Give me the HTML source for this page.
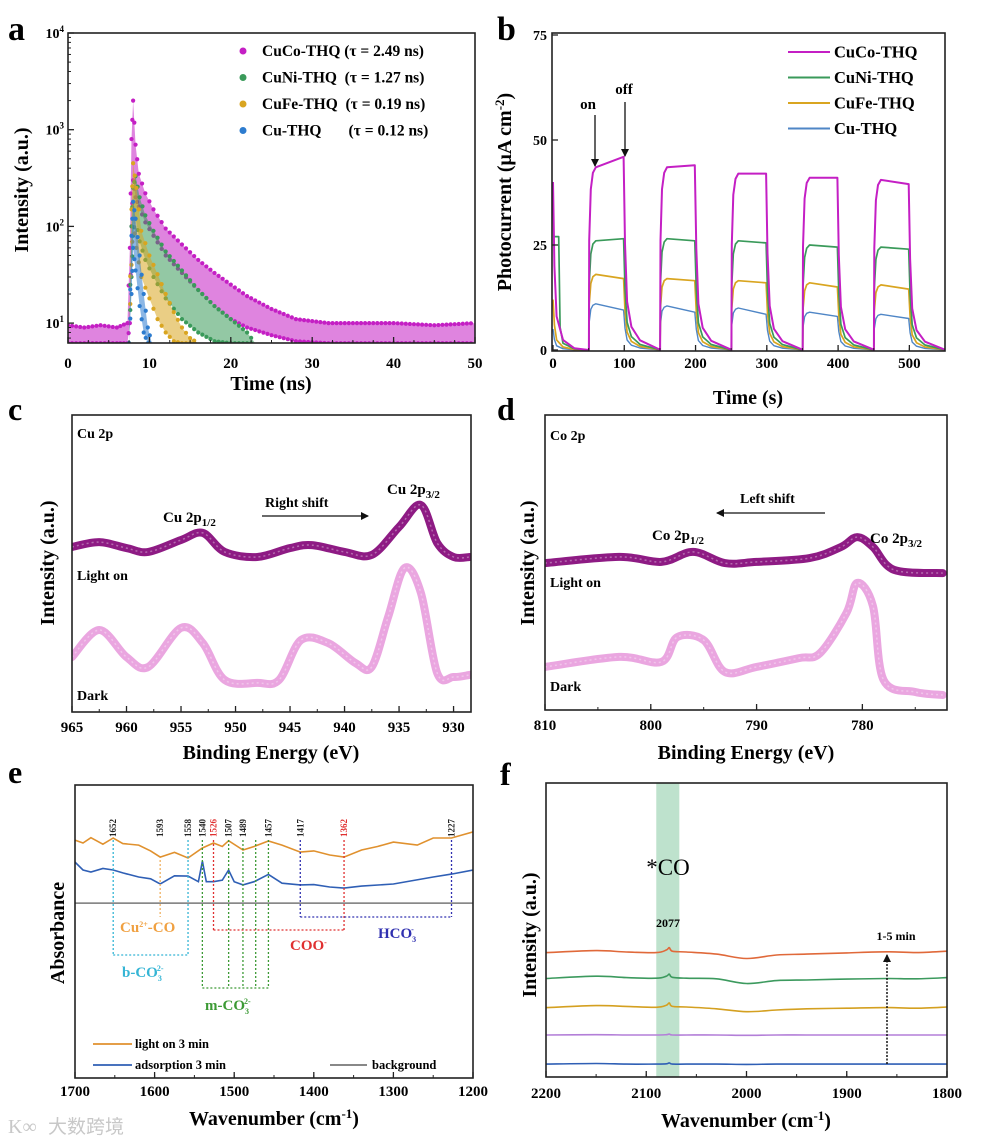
<!DOCTYPE html>
<html><head><meta charset="utf-8"><style>
html,body{margin:0;padding:0;background:#fff;}
svg{display:block;font-family:"Liberation Serif","Noto Serif CJK SC",serif;font-weight:bold;}
</style></head><body>
<svg id="fig" width="981" height="1145" viewBox="0 0 981 1145" xmlns="http://www.w3.org/2000/svg">
<defs>
<clipPath id="clipA"><rect x="68" y="33" width="407" height="310"/></clipPath>
<clipPath id="clipB"><rect x="552" y="33" width="393" height="318"/></clipPath>
<clipPath id="clipC"><rect x="72" y="415" width="399" height="297"/></clipPath>
<clipPath id="clipD"><rect x="545" y="415" width="402" height="295"/></clipPath>
<clipPath id="clipE"><rect x="75" y="785" width="398" height="293"/></clipPath>
<clipPath id="clipF"><rect x="546" y="783" width="401" height="294"/></clipPath>
<marker id="ah" markerWidth="8" markerHeight="8" refX="7" refY="4" orient="auto" markerUnits="userSpaceOnUse"><path d="M0,0 L8,4 L0,8 Z" fill="#111"/></marker>
</defs>
<rect width="981" height="1145" fill="#fff"/>

<text x="8" y="40" font-size="34">a</text>
<text x="497" y="40" font-size="34">b</text>
<text x="8" y="420" font-size="32">c</text>
<text x="497" y="420" font-size="32">d</text>
<text x="8" y="783" font-size="32">e</text>
<text x="500" y="785" font-size="32">f</text>

<g id="gA"></g>
<g id="gB"></g>
<g id="gC"></g>
<g id="gD"></g>
<g id="gE"></g>
<g id="gF"></g>

<text x="271" y="390" font-size="20" text-anchor="middle">Time (ns)</text>
<text transform="translate(28,190) rotate(-90)" font-size="20" text-anchor="middle">Intensity (a.u.)</text>
<text x="748" y="404" font-size="20" text-anchor="middle">Time (s)</text>
<text transform="translate(511,192) rotate(-90)" font-size="20" text-anchor="middle">Photocurrent (μA cm<tspan dy="-7" font-size="13">-2</tspan><tspan dy="7">)</tspan></text>
<text x="271" y="759" font-size="20" text-anchor="middle">Binding Energy (eV)</text>
<text transform="translate(54,563) rotate(-90)" font-size="20" text-anchor="middle">Intensity (a.u.)</text>
<text x="746" y="759" font-size="20" text-anchor="middle">Binding Energy (eV)</text>
<text transform="translate(534,563) rotate(-90)" font-size="20" text-anchor="middle">Intensity (a.u.)</text>
<text x="274" y="1125" font-size="20" text-anchor="middle">Wavenumber (cm<tspan dy="-7" font-size="13">-1</tspan><tspan dy="7">)</tspan></text>
<text transform="translate(64,933) rotate(-90)" font-size="20" text-anchor="middle">Absorbance</text>
<text x="746" y="1127" font-size="20" text-anchor="middle">Wavenumber (cm<tspan dy="-7" font-size="13">-1</tspan><tspan dy="7">)</tspan></text>
<text transform="translate(536,935) rotate(-90)" font-size="20" text-anchor="middle">Intensity (a.u.)</text>

<text x="77" y="438" font-size="14">Cu 2p</text>
<text x="163" y="522" font-size="15">Cu 2p<tspan font-size="11" dy="4">1/2</tspan></text>
<text x="265" y="507" font-size="14">Right shift</text>
<line x1="262" y1="516" x2="368" y2="516" stroke="#111" stroke-width="1.3" marker-end="url(#ah)"/>
<text x="387" y="494" font-size="15">Cu 2p<tspan font-size="11" dy="4">3/2</tspan></text>
<text x="77" y="580" font-size="14">Light on</text>
<text x="77" y="700" font-size="14">Dark</text>

<text x="550" y="440" font-size="14">Co 2p</text>
<text x="740" y="503" font-size="14">Left shift</text>
<line x1="825" y1="513" x2="717" y2="513" stroke="#111" stroke-width="1.3" marker-end="url(#ah)"/>
<text x="652" y="540" font-size="15">Co 2p<tspan font-size="11" dy="4">1/2</tspan></text>
<text x="870" y="543" font-size="15">Co 2p<tspan font-size="11" dy="4">3/2</tspan></text>
<text x="550" y="587" font-size="14">Light on</text>
<text x="550" y="691" font-size="14">Dark</text>

<text x="588" y="109" font-size="15" text-anchor="middle">on</text>
<text x="624" y="94" font-size="15" text-anchor="middle">off</text>
<line x1="595" y1="115" x2="595" y2="166" stroke="#111" stroke-width="1.3" marker-end="url(#ah)"/>
<line x1="625" y1="102" x2="625" y2="156" stroke="#111" stroke-width="1.3" marker-end="url(#ah)"/>

<text x="668" y="875" font-size="23" font-weight="normal" text-anchor="middle">*CO</text>
<text x="668" y="927" font-size="12" text-anchor="middle">2077</text>
<text x="896" y="940" font-size="12" text-anchor="middle">1-5 min</text>
<line x1="887" y1="1064" x2="887" y2="955" stroke="#111" stroke-width="1.5" stroke-dasharray="2,1.5" marker-end="url(#ah)"/>

<text x="8" y="1133" font-size="20" fill="#c8c8c8" font-weight="normal">K∞</text>
<text x="48" y="1133" font-size="19" fill="#c8c8c8" font-family="'Noto Sans CJK SC',sans-serif" font-weight="normal">大数跨境</text>
</svg>

<script>
const tCuCo = [0,2,4,6,7.3,7.6,7.8,8,8.3,8.7,9.5,10.5,12,14,16,18,20,22,25,28,32,36,40,45,50];
const upCuCo = [9.5,9,9.5,9,10,60,800,2000,700,350,220,150,95,65,45,33,25,19,14,11,10,10,10,9.5,10];
const loCuCo = [6.2,6.2,6.2,6.2,6.2,10,100,300,200,160,110,80,50,33,22,15,11,9,7.5,6.5,6.2,6.2,6.2,6.2,6.2];
const tCuNi = [7.5,7.8,8,8.3,8.8,9.5,10.5,12,14,16,18,20,22,23];
const upCuNi = [6.2,100,250,330,200,130,90,55,35,22,15,11,8,6.2];
const loCuNi = [6.2,30,80,120,70,45,30,18,11,8,6.5,6.2,6.2,6.2];
const tCuFe = [7.5,7.8,8,8.4,9,10,11,12,13,14,15,16];
const upCuFe = [6.2,150,450,250,90,50,32,20,13,9,7,6.2];
const loCuFe = [6.2,40,120,60,30,18,11,8,6.5,6.2,6.2,6.2];
const tCu = [7.5,7.8,8,8.3,8.8,9.3,9.8,10.3];
const upCu = [6.2,80,180,120,50,20,9,6.2];
const loCu = [6.2,20,60,35,15,8,6.2,6.2];
const legendA = ["CuCo-THQ (τ = 2.49 ns)","CuNi-THQ  (τ = 1.27 ns)","CuFe-THQ  (τ = 0.19 ns)","Cu-THQ       (τ = 0.12 ns)"];
const xTicksA = [0,10,20,30,40,50];
const yExpA = [1,2,3,4];

const onTimes = [50,150,250,350,450];
const offTimes = [100,200,300,400,500];
const bNames = ["CuCo-THQ","CuNi-THQ","CuFe-THQ","Cu-THQ"];
const bInit = [40,27,12,5];
const cucoStart = [43.5,43.5,42,41,40.5];
const cucoEnd = [46,44,42,41,39.5];
const cuniStart = [26,26.5,26,25,24.5];
const cuniEnd = [26.5,26,25.5,24.5,24];
const cufeStart = [18,17,16.5,16,15.5];
const cufeEnd = [17,16.5,16,15,14.5];
const cuStart = [11,10.5,10,9,8.5];
const cuEnd = [9.5,9,8.5,8,7.5];
const xTicksB = [0,100,200,300,400,500];
const yTicksB = [0,25,50,75];

const eCuOn = [965,962.5,960,958,955,953,951,948,945,943,940,937.5,935,933,931.5,930,928.5];
const iCuOn = [55.6,57.2,55.2,53.9,57.9,60.3,53.9,52.2,55.2,56.2,53.9,52.9,62.3,69.7,56.9,52.2,52.2];
const eCuDark = [965,962.5,960,958,955,953,951,948,946,944,941.5,939,937.5,936,934.5,933,931.5,930,928.5];
const iCuDark = [18.5,27.6,18.5,15.2,28.3,23.2,10.8,9.8,10.8,24.2,23.2,16.5,15.2,32,48.5,40.1,13.1,11.8,12.5];
const xTicksC = [965,960,955,950,945,940,935,930];

const eCoOn = [810,803,799,796,793,790,785,782,780.5,779,777,772.4];
const iCoOn = [49.8,51.9,50.2,53.6,49.8,50.2,51.5,55.3,58.6,55.3,47.5,46.4];
const eCoDark = [810,803,799,797.5,795,793,790,786,784,781.5,780.5,779,778,775,772.4];
const iCoDark = [14.6,18,16.3,24.7,23.7,12.9,14.6,17.6,19.3,32.9,43.1,35.3,10.2,6.1,5.1];
const xTicksD = [810,800,790,780];

const wOrange = [1700,1690,1680,1665,1652,1640,1620,1605,1593,1575,1558,1540,1526,1515,1507,1489,1475,1457,1440,1417,1400,1380,1362,1340,1320,1300,1270,1250,1227,1200];
const aOrange = [81.2,80.2,82,79.8,81.9,80,79.5,77.5,75.4,77,75.1,78.5,80.2,79,81,77.8,79,80.9,79.5,77.1,77.5,76.1,75.4,77.8,79,80.5,79.5,81.9,81.9,84];
const wBlue = [1700,1690,1680,1665,1652,1640,1620,1605,1593,1575,1558,1545,1540,1535,1526,1515,1507,1500,1489,1475,1457,1440,1417,1400,1380,1362,1340,1300,1250,1227,1200];
const aBlue = [73.7,71,70.3,71.5,71,70,68.6,68,66.2,69,68.9,67,74,67,67,67.5,71,67,65.9,67,69.5,66.5,65.9,66,65.2,64.8,65.5,66.2,68.6,69.6,71];
const aBackground = 59.7;
const xTicksE = [1700,1600,1500,1400,1300,1200];

const wF = [2200,2150,2120,2090,2080,2077,2074,2060,2030,2000,1970,1940,1900,1860,1830,1800];
const fOrange = [42.3,43,42.5,42.3,43.2,44,42.8,42.5,41.8,40.3,41.5,41.8,42.2,42.6,42.3,42.8];
const fGreen = [33.5,34.3,33.8,33.6,34.3,35,33.9,33.6,33.4,31.8,32.8,33,33.3,33.5,33.4,33.8];
const fYellow = [23.6,24.3,24,23.7,24.4,25.2,24,23.8,23.2,22.2,22.8,23.2,23.4,23.6,23.4,23.8];
const fPurple = [14.3,14.4,14.3,14.3,14.4,14.6,14.3,14.3,14.3,14.2,14.3,14.3,14.3,14.3,14.3,14.3];
const fBlue = [4.4,4.6,4.4,4.4,4.5,4.8,4.4,4.4,4.4,4.3,4.4,4.4,4.4,4.4,4.4,4.4];
const xTicksF = [2200,2100,2000,1900,1800];

const NS = "http://www.w3.org/2000/svg";
function add(tag, attrs, parent) {
  const el = document.createElementNS(NS, tag);
  for (const k in attrs) el.setAttribute(k, attrs[k]);
  parent.appendChild(el);
  return el;
}
function lin(d0, d1, r0, r1) { return v => r0 + (v - d0) * (r1 - r0) / (d1 - d0); }
function smooth(pts) {
  if (pts.length < 2) return "";
  let d = "M" + pts[0][0].toFixed(1) + "," + pts[0][1].toFixed(1);
  for (let i = 0; i < pts.length - 1; i++) {
    const p0 = pts[Math.max(0, i - 1)], p1 = pts[i], p2 = pts[i + 1], p3 = pts[Math.min(pts.length - 1, i + 2)];
    const c1 = [p1[0] + (p2[0] - p0[0]) / 6, p1[1] + (p2[1] - p0[1]) / 6];
    const c2 = [p2[0] - (p3[0] - p1[0]) / 6, p2[1] - (p3[1] - p1[1]) / 6];
    d += " C" + c1[0].toFixed(1) + "," + c1[1].toFixed(1) + " " + c2[0].toFixed(1) + "," + c2[1].toFixed(1) + " " + p2[0].toFixed(1) + "," + p2[1].toFixed(1);
  }
  return d;
}
function frame(g, x, y, w, h, name) {
  const r = add("rect", {x: x, y: y, width: w, height: h, fill: "none", stroke: "#222", "stroke-width": 1.6}, g);
  
  
}
function xTicks(g, ticks, sx, yb, labY, name, minorStep, x0, x1) {
  ticks.forEach(t => {
    const l = add("line", {x1: sx(t), x2: sx(t), y1: yb, y2: yb - 6, stroke: "#222", "stroke-width": 1.3}, g);
    
    
    const tx = add("text", {x: sx(t), y: labY, "font-size": 15, "text-anchor": "middle"}, g);
    tx.textContent = t;
    
    
  });
  if (minorStep) {
    for (let v = x0; (minorStep > 0 ? v <= x1 : v >= x1); v += minorStep) {
      const m = add("line", {x1: sx(v), x2: sx(v), y1: yb, y2: yb - 3, stroke: "#222", "stroke-width": 1}, g);
      
      
    }
  }
}

(function () {
  const g = document.getElementById("gA");
  const sx = lin(0, 50, 68, 475);
  const sy = v => 33 + (4 - Math.log10(v)) * 96.7;
  const cl = add("g", {"clip-path": "url(#clipA)"}, g);
  const series = [
    [tCuCo, upCuCo, loCuCo, "#c41fc4", "cuco"],
    [tCuNi, upCuNi, loCuNi, "#3a9a5a", "cuni"],
    [tCuFe, upCuFe, loCuFe, "#d9a520", "cufe"],
    [tCu, upCu, loCu, "#2d7ccf", "cu"]
  ];
  series.forEach(s => {
    const [t, up, lo, col, nm] = s;
    const upPts = t.map((v, i) => [sx(v), sy(up[i])]);
    const loPts = t.map((v, i) => [sx(v), sy(lo[i])]).reverse();
    const poly = add("polygon", {points: upPts.concat(loPts).map(p => p.join(",")).join(" "), fill: col, "fill-opacity": 0.55}, cl);
    
    
    [up, lo].forEach(arr => {
      for (let i = 0; i < t.length - 1; i++) {
        const n = Math.max(2, Math.round((sx(t[i + 1]) - sx(t[i])) / 4));
        for (let k = 0; k < n; k++) {
          const f = k / n;
          const tv = t[i] + (t[i + 1] - t[i]) * f;
          const lv = Math.log10(arr[i]) + (Math.log10(arr[i + 1]) - Math.log10(arr[i])) * f;
          const c = add("circle", {cx: sx(tv), cy: sy(Math.pow(10, lv)), r: 2.1, fill: col}, cl);
          
          
        }
      }
    });
  });
  frame(g, 68, 33, 407, 310, "plot-frame-a");
  xTicks(g, xTicksA, sx, 343, 368, "x-axis-a", 2.5, 0, 50);
  yExpA.forEach(e => {
    const y = sy(Math.pow(10, e));
    const l = add("line", {x1: 68, x2: 74, y1: y, y2: y, stroke: "#222", "stroke-width": 1.3}, g);
    
    
    const tx = add("text", {x: 64, y: y + 5, "font-size": 14, "text-anchor": "end"}, g);
    tx.innerHTML = '10<tspan dy="-6" font-size="9">' + e + '</tspan>';
    
    
    for (let m = 2; m < 10; m++) {
      const yy = sy(m * Math.pow(10, e - 1));
      if (yy > 343) continue;
      const ml = add("line", {x1: 68, x2: 71, y1: yy, y2: yy, stroke: "#222", "stroke-width": 1}, g);
      
      
    }
  });
  const cols = ["#c41fc4", "#3a9a5a", "#d9a520", "#2d7ccf"];
  legendA.forEach((lbl, i) => {
    const y = 51 + i * 26.5;
    const c = add("circle", {cx: 243, cy: y, r: 3.5, fill: cols[i]}, g);
    
    
    const tx = add("text", {x: 262, y: y + 5, "font-size": 15.5}, g);
    tx.setAttribute("style", "white-space:pre");
    tx.textContent = lbl;
    
    
  });
})();

(function () {
  const g = document.getElementById("gB");
  const sx = lin(0, 550, 553, 945);
  const sy = lin(0, 75, 350, 35);
  const cl = add("g", {"clip-path": "url(#clipB)"}, g);
  const starts = [cucoStart, cuniStart, cufeStart, cuStart];
  const ends = [cucoEnd, cuniEnd, cufeEnd, cuEnd];
  const cols = ["#c41fc4", "#3a9a5a", "#d9a520", "#4f86c6"];
  const widths = [2, 1.7, 1.7, 1.4];
  for (let s = 3; s >= 0; s--) {
    const pts = [];
    const init = bInit[s];
    pts.push([0, init]);
    if (s === 1) { pts.push([2, init]); pts.push([8, init]); pts.push([10, init * 0.2]); }
    else { pts.push([2, init * 0.5]); pts.push([5, init * 0.2]); }
    pts.push([14, init * 0.06]); pts.push([30, init * 0.01]); pts.push([50, 0]);
    onTimes.forEach((on, i) => {
      const off = offTimes[i], st = starts[s][i], en = ends[s][i];
      pts.push([on + 0.3, 0]);
      pts.push([on + 0.8, st * 0.6]);
      pts.push([on + 3, st * 0.88]);
      pts.push([on + 6, st * 0.97]);
      pts.push([on + 10, st]);
      pts.push([off - 1, en]);
      pts.push([off + 1, en * 0.55]);
      pts.push([off + 4, en * 0.25]);
      pts.push([off + 10, en * 0.12]);
      pts.push([off + 22, en * 0.05]);
      pts.push([off + 48, en * 0.005]);
    });
    pts.push([552, 0]);
    const d = pts.map((p, i) => (i ? "L" : "M") + sx(p[0]).toFixed(1) + "," + sy(p[1]).toFixed(1)).join(" ");
    const path = add("path", {d: d, fill: "none", stroke: cols[s], "stroke-width": widths[s], "stroke-linejoin": "round"}, cl);
    
    
  }
  frame(g, 552, 33, 393, 318, "plot-frame-b");
  xTicks(g, xTicksB, sx, 351, 368, "x-axis-b", 50, 0, 550);
  yTicksB.forEach(v => {
    const y = sy(v);
    const l = add("line", {x1: 552, x2: 558, y1: y, y2: y, stroke: "#222", "stroke-width": 1.3}, g);
    
    
    const tx = add("text", {x: 547, y: y + 5, "font-size": 14, "text-anchor": "end"}, g);
    tx.textContent = v;
    
    
  });
  bNames.forEach((n, i) => {
    const y = 52 + i * 25.5;
    const l = add("line", {x1: 788, x2: 830, y1: y, y2: y, stroke: cols[i], "stroke-width": 2}, g);
    
    
    const tx = add("text", {x: 834, y: y + 5.5, "font-size": 16.5}, g);
    tx.textContent = n;
    
    
  });
})();

function xps(gid, clip, x0, y0, w, h, xd0, xd1, eOn, iOn, eDk, iDk, ticks, minor, name) {
  const g = document.getElementById(gid);
  const sx = lin(xd0, xd1, x0, x0 + w);
  const sy = lin(0, 100, y0 + h, y0);
  const cl = add("g", {"clip-path": "url(#" + clip + ")"}, g);
  [[eDk, iDk, "#eaa6e0", "dark"], [eOn, iOn, "#8e1b84", "light-on"]].forEach(s => {
    const d = smooth(s[0].map((e, i) => [sx(e), sy(s[1][i])]));
    const p = add("path", {d: d, fill: "none", stroke: s[2], "stroke-width": 8, "stroke-linejoin": "round", "stroke-linecap": "round"}, cl);
    
    
    const p2 = add("path", {d: d, fill: "none", stroke: "#fff", "stroke-opacity": 0.35, "stroke-width": 1.5, "stroke-dasharray": "2,3"}, cl);
    
    
  });
  frame(g, x0, y0, w, h, "plot-frame-" + name);
  xTicks(g, ticks, sx, y0 + h, y0 + h + 20, "x-axis-" + name, minor, xd0, xd1);
}
xps("gC", "clipC", 72, 415, 399, 297, 965, 928.4, eCuOn, iCuOn, eCuDark, iCuDark, xTicksC, -2.5, "c");
xps("gD", "clipD", 545, 415, 402, 295, 810, 772, eCoOn, iCoOn, eCoDark, iCoDark, xTicksD, -5, "d");

(function () {
  const g = document.getElementById("gE");
  const sx = lin(1700, 1200, 75, 473);
  const sy = lin(0, 100, 1078, 785);
  const cl = add("g", {"clip-path": "url(#clipE)"}, g);
  const bg = add("line", {x1: 75, x2: 473, y1: sy(aBackground), y2: sy(aBackground), stroke: "#777", "stroke-width": 1.5}, cl);
  
  
  [[wOrange, aOrange, "#e0912e", "light-on-3min"], [wBlue, aBlue, "#2f5fb5", "adsorption-3min"]].forEach(s => {
    const p = add("polyline", {points: s[0].map((w, i) => sx(w).toFixed(1) + "," + sy(s[1][i]).toFixed(1)).join(" "), fill: "none", stroke: s[2], "stroke-width": 1.6}, cl);
    
    
  });
  const brackets = [
    [[1652, 1558], 955, "#35b5d5", "b-CO3"],
    [[1540, 1507, 1489, 1473, 1457], 988, "#3c9a35", "m-CO3"],
    [[1526, 1362], 930, "#e03030", "COO"],
    [[1417, 1227], 917, "#3030b0", "HCO3"]
  ];
  brackets.forEach(b => {
    const [ws, yb, col, nm] = b;
    ws.forEach(w => {
      const l = add("line", {x1: sx(w), x2: sx(w), y1: 840, y2: yb, stroke: col, "stroke-width": 1.3, "stroke-dasharray": "2,2"}, g);
      
      
    });
    const hl = add("line", {x1: sx(ws[0]), x2: sx(ws[ws.length - 1]), y1: yb, y2: yb, stroke: col, "stroke-width": 1.3, "stroke-dasharray": "2,2"}, g);
    
    
  });
  const cuLine = add("line", {x1: sx(1593), x2: sx(1593), y1: 860, y2: 917, stroke: "#f0b060", "stroke-width": 1.3, "stroke-dasharray": "2,2"}, g);
  
  
  const peakLabels = [1652, 1593, 1558, 1540, 1526, 1507, 1489, 1457, 1417, 1362, 1227];
  peakLabels.forEach(w => {
    const red = (w === 1526 || w === 1362);
    const tx = add("text", {transform: "translate(" + (sx(w) + 3) + ",837) rotate(-90)", "font-size": 9, fill: red ? "#e03030" : "#222"}, g);
    tx.textContent = w;
    
    
  });
  const labs = [
    [120, 932, "#f0a040", 'Cu<tspan dy="-5" font-size="8">2+</tspan><tspan dy="5">-CO</tspan>', "cu-co-label"],
    [122, 977, "#35b5d5", 'b-CO<tspan dy="4" font-size="8">3</tspan><tspan dy="-10" dx="-5" font-size="8">2-</tspan>', "b-co3-label"],
    [205, 1010, "#3c9a35", 'm-CO<tspan dy="4" font-size="8">3</tspan><tspan dy="-10" dx="-5" font-size="8">2-</tspan>', "m-co3-label"],
    [290, 950, "#e03030", 'COO<tspan dy="-5" font-size="8">-</tspan>', "coo-label"],
    [378, 938, "#3030b0", 'HCO<tspan dy="4" font-size="8">3</tspan><tspan dy="-10" dx="-5" font-size="8">-</tspan>', "hco3-label"]
  ];
  labs.forEach(l => {
    const tx = add("text", {x: l[0], y: l[1], "font-size": 15, fill: l[2]}, g);
    tx.innerHTML = l[3];
    
    
  });
  frame(g, 75, 785, 398, 293, "plot-frame-e");
  xTicks(g, xTicksE, sx, 1078, 1096, "x-axis-e", -50, 1700, 1200);
  const leg = [[93, 132, 1044, "#e0912e", "light on 3 min", 135], [93, 132, 1065, "#2f5fb5", "adsorption 3 min", 135], [330, 367, 1065, "#777", "background", 372]];
  leg.forEach(L => {
    const ln = add("line", {x1: L[0], x2: L[1], y1: L[2], y2: L[2], stroke: L[3], "stroke-width": 1.8}, g);
    
    
    const tx = add("text", {x: L[5], y: L[2] + 4, "font-size": 12.5}, g);
    tx.textContent = L[4];
    
    
  });
})();

(function () {
  const g = document.getElementById("gF");
  const sx = lin(2200, 1800, 546, 947);
  const sy = lin(0, 100, 1077, 783);
  const band = add("rect", {x: sx(2090), y: 783, width: sx(2067) - sx(2090), height: 294, fill: "#a8d8bc", "fill-opacity": 0.75}, g);
  
  
  const cl = add("g", {"clip-path": "url(#clipF)"}, g);
  [[fBlue, "#2f5fb5", "1min"], [fPurple, "#b37fd8", "2min"], [fYellow, "#d4a020", "3min"], [fGreen, "#3c9a5e", "4min"], [fOrange, "#e0693a", "5min"]].forEach(s => {
    const p = add("path", {d: smooth(wF.map((w, i) => [sx(w), sy(s[0][i])])), fill: "none", stroke: s[1], "stroke-width": 1.6}, cl);
    
    
  });
  frame(g, 546, 783, 401, 294, "plot-frame-f");
  xTicks(g, xTicksF, sx, 1077, 1098, "x-axis-f", -50, 2200, 1800);
})();
</script>
</body></html>
